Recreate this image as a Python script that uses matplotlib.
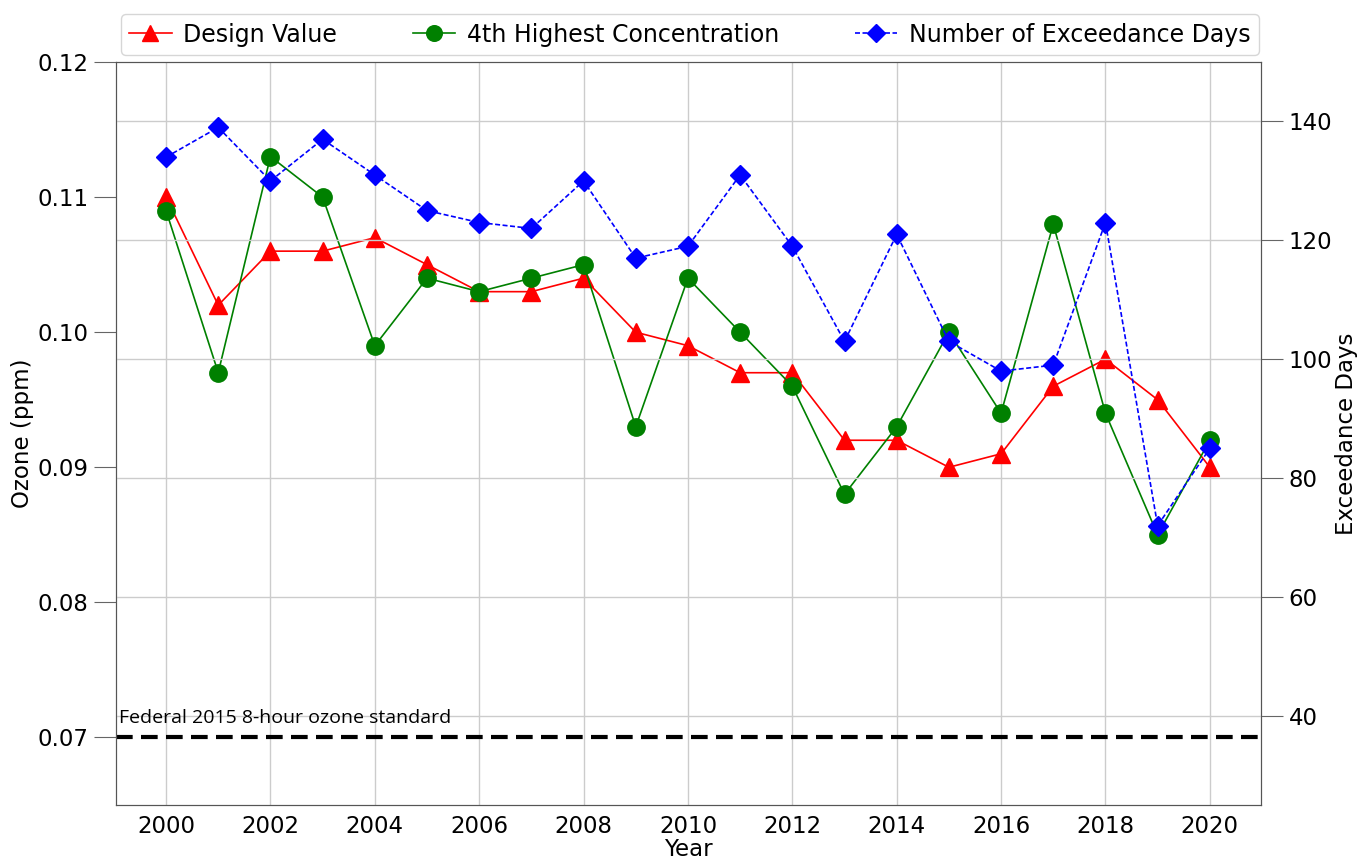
import matplotlib
matplotlib.use("Agg")
import matplotlib.pyplot as plt

# annual ozone summary
anos = list(range(2000, 2021))
design_value = [0.110, 0.102, 0.106, 0.106, 0.107, 0.105, 0.103, 0.103, 0.104, 0.100,
                0.099, 0.097, 0.097, 0.092, 0.092, 0.090, 0.091, 0.096, 0.098, 0.095, 0.090]
quarta_maior = [0.109, 0.097, 0.113, 0.110, 0.099, 0.104, 0.103, 0.104, 0.105, 0.093,
                0.104, 0.100, 0.096, 0.088, 0.093, 0.100, 0.094, 0.108, 0.094, 0.085, 0.092]
dias_excedencia = [134, 139, 130, 137, 131, 125, 123, 122, 130, 117,
                   119, 131, 119, 103, 121, 103, 98, 99, 123, 72, 85]
padrao_federal = 0.070

fig = plt.figure(figsize=(13.69, 8.58), dpi=100)
ax = fig.add_axes([0.0847, 0.0618, 0.8364, 0.8659])
ax2 = ax.twinx()

l1, = ax.plot(anos, design_value, color="red", marker="^", markersize=13, lw=1.2,
              label="Design Value")
l2, = ax.plot(anos, quarta_maior, color="green", marker="o", markersize=12.5, lw=1.2,
              label="4th Highest Concentration")
l3, = ax2.plot(anos, dias_excedencia, color="blue", marker="D", markersize=10.5, lw=1.2,
               ls=(0, (3, 1.5)), label="Number of Exceedance Days")

ax.axhline(padrao_federal, color="black", ls=(0, (4, 2)), lw=3)
# on ax2 so the text sits above the horizontal grid
ax2.text(1999.1, 0.0708, "Federal 2015 8-hour ozone standard", fontsize=14,
         family="Open Sans", va="bottom", ha="left", transform=ax.transData)

ax.set_xlim(1999.04, 2020.98)
ax.set_ylim(0.065, 0.12)
ax2.set_ylim(25, 150)
ax.set_xticks(range(2000, 2021, 2))
ax.set_yticks([0.07, 0.08, 0.09, 0.10, 0.11, 0.12])
ax.set_yticklabels(["0.07", "0.08", "0.09", "0.10", "0.11", "0.12"])
ax2.set_yticks([40, 60, 80, 100, 120, 140])

ax.grid(axis="x", color="#cccccc", lw=1)
ax2.grid(axis="y", color="#cccccc", lw=1)
ax2.set_axisbelow(True)

ax.tick_params(axis="x", labelsize=16.5, length=0, pad=7)
ax.tick_params(axis="y", labelsize=16.5, length=16, color="#666666", pad=4)
ax2.tick_params(axis="y", labelsize=16.5, length=16, color="#666666", pad=4)

for a in (ax, ax2):
    for s in a.spines.values():
        s.set_color("#555555")

ax.set_xlabel("Year", fontsize=16.5, labelpad=0)
ax.set_ylabel("Ozone (ppm)", fontsize=16.5, labelpad=2)
ax2.set_ylabel("Exceedance Days", fontsize=16.5, labelpad=2)

fig.legend(handles=[l1, l2, l3], loc="upper center", bbox_to_anchor=(0.504, 0.997),
           ncol=3, fontsize=17, frameon=True, columnspacing=3.2, handlelength=1.8,
           handletextpad=0.5, borderpad=0.35, markerscale=0.9)

fig.savefig("out.png", dpi=100)
